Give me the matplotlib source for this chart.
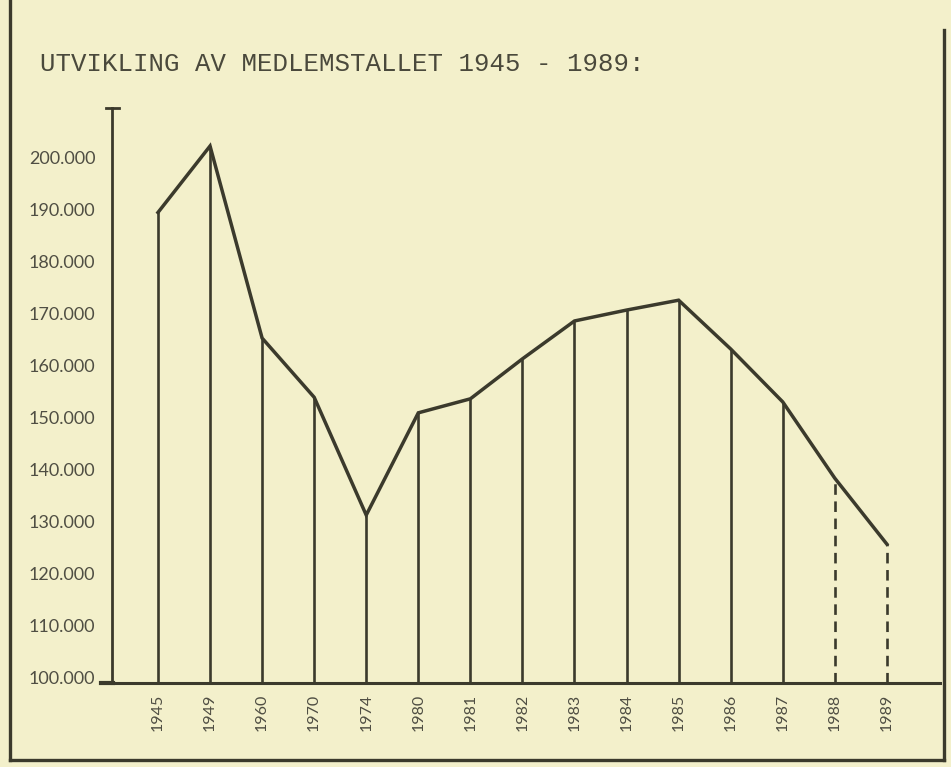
import matplotlib
matplotlib.use("Agg")
import matplotlib.pyplot as plt
from matplotlib.lines import Line2D

years = ["1945", "1949", "1960", "1970", "1974", "1980", "1981", "1982",
         "1983", "1984", "1985", "1986", "1987", "1988", "1989"]
members = [189500, 202300, 165300, 153900, 131200, 150900, 153600, 161300,
           168600, 170700, 172600, 163200, 153000, 138300, 125600]
estimated = [False] * 13 + [True, True]
yticks = [100000, 110000, 120000, 130000, 140000, 150000, 160000, 170000,
          180000, 190000, 200000]
ytick_labels = ["100.000", "110.000", "120.000", "130.000", "140.000", "150.000",
                "160.000", "170.000", "180.000", "190.000", "200.000"]
title = "UTVIKLING AV MEDLEMSTALLET 1945 - 1989:"

BG = "#f3f0cb"
INK = "#3b3a2c"
TXT = "#4f4e43"

W, H = 951, 767
fig = plt.figure(figsize=(W / 100, H / 100), dpi=100, facecolor=BG)

def fx(px):
    return px / W

def fy(py):
    return 1 - py / H

ax = fig.add_axes([fx(112), fy(683), fx(940) - fx(112), fy(108) - fy(683)])
ax.set_facecolor(BG)

x = list(range(len(years)))
ymin, ymax = 98850, 209630
ax.set_xlim(-0.883, 15.02)
ax.set_ylim(ymin, ymax)

# stems
for xi, v, est in zip(x, members, estimated):
    ax.vlines(xi, ymin, v, color=INK, lw=1.9,
              linestyles=(0, (4, 2.5)) if est else "solid")
# polyline
ax.plot(x, members, color=INK, lw=2.5, solid_joinstyle="miter")

for s in ["top", "right"]:
    ax.spines[s].set_visible(False)
ax.spines["left"].set_color(INK)
ax.spines["left"].set_linewidth(2.0)
ax.spines["bottom"].set_color(INK)
ax.spines["bottom"].set_linewidth(2.2)

ax.set_yticks(yticks)
ax.set_yticklabels(ytick_labels, family="Lato", fontsize=13, color=TXT)
ax.tick_params(axis="y", length=0, pad=12)
ax.set_xticks(x)
ax.set_xticklabels(years, rotation=90, family="Lato", fontsize=11.5, color=TXT)
ax.tick_params(axis="x", length=0, pad=8)

# y-axis top cap and x-axis stub to the left
fig.add_artist(Line2D([fx(106), fx(119)], [fy(108), fy(108)], color=INK, lw=2))
fig.add_artist(Line2D([fx(101), fx(113)], [fy(683), fy(683)], color=INK, lw=3))

# page frame
fig.add_artist(Line2D([fx(10), fx(10)], [fy(0), fy(760)], color=INK, lw=2.4))
fig.add_artist(Line2D([fx(10), fx(944)], [fy(760), fy(760)], color=INK, lw=2.4))
fig.add_artist(Line2D([fx(944), fx(944)], [fy(30), fy(760)], color=INK, lw=2.4))

fig.text(fx(40), fy(64), title, family="Liberation Mono", fontsize=18.5,
         color="#4a493c", ha="left", va="center")

fig.savefig("out.png", dpi=100, facecolor=BG)
